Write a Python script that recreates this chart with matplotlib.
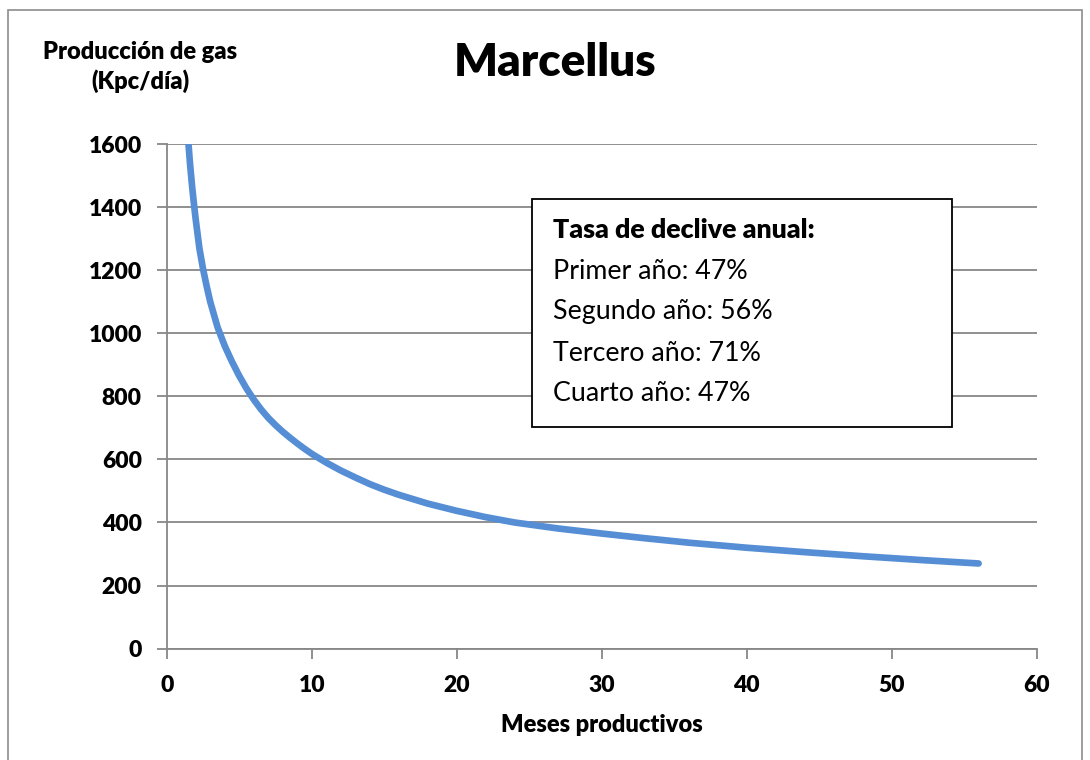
import matplotlib.pyplot as plt
from matplotlib.patches import Rectangle

# Datos
meses = [1.5, 1.6, 1.75, 1.9, 2.0, 2.25, 2.5, 2.75, 3.0, 3.5, 4, 4.5, 5, 5.5, 6, 6.5,
         7, 7.5, 8, 8.5, 9, 9.5, 10, 11, 12, 13, 14, 15, 16, 18, 20, 22, 24, 27, 30,
         33, 36, 40, 44, 48, 52, 56]
produccion = [1600, 1540, 1465, 1400, 1360, 1270, 1205, 1150, 1100, 1020, 960, 910,
              865, 825, 790, 759, 732, 709, 688, 669, 651, 634, 618, 590, 565, 543,
              522, 504, 488, 460, 437, 417, 400, 381, 365, 350, 336, 320, 306, 293,
              281, 270]

y_ticks = [0, 200, 400, 600, 800, 1000, 1200, 1400, 1600]
x_ticks = [0, 10, 20, 30, 40, 50, 60]

tasas = ["Primer año: 47%", "Segundo año: 56%", "Tercero año: 71%", "Cuarto año: 47%"]

plt.rcParams['font.family'] = ['Lato', 'DejaVu Sans']

fig = plt.figure(figsize=(10.9, 7.6), dpi=100)
ax = fig.add_axes([0.153, 0.1466, 0.798, 0.6636])

# borde exterior del grafico
fig.patches.append(Rectangle((8 / 1090, -0.01), 1074 / 1090, 1 - 10 / 760 + 0.01,
                             transform=fig.transFigure, fill=False,
                             edgecolor='#8c8c8c', linewidth=1.2))

ax.plot(meses, produccion, color='#558ED5', linewidth=4.8, solid_capstyle='round',
        solid_joinstyle='round')

ax.set_xlim(0, 60)
ax.set_ylim(0, 1600)
ax.set_xticks(x_ticks)
ax.set_yticks(y_ticks)
ax.grid(axis='y', color='#878787', linewidth=1.3)
ax.set_axisbelow(True)
for s in ['top', 'right']:
    ax.spines[s].set_visible(False)
for s in ['left', 'bottom']:
    ax.spines[s].set_color('#878787')
    ax.spines[s].set_linewidth(1.3)
ax.tick_params(axis='both', length=7, width=1.3, color='#878787', labelsize=16.5)
ax.tick_params(axis='x', pad=12)
ax.tick_params(axis='y', pad=11)
for lab in ax.get_xticklabels() + ax.get_yticklabels():
    lab.set_fontweight('heavy')

ax.set_xlabel("Meses productivos", fontsize=17, fontweight='heavy', labelpad=13)
fig.text(140 / 1090, 1 - 67 / 760, "Producción de gas\n(Kpc/día)", ha='center',
         va='center', fontsize=17, fontweight='heavy', linespacing=1.3)
fig.text(555 / 1090, 1 - 62 / 760, "Marcellus", ha='center', va='center',
         fontsize=33, fontweight='heavy')

# cuadro con las tasas de declive
fig.patches.append(Rectangle((532 / 1090, 1 - 427 / 760), 420 / 1090, 228 / 760,
                             transform=fig.transFigure, facecolor='white',
                             edgecolor='black', linewidth=1.3, zorder=5))
fig.text(553 / 1090, 1 - 230 / 760, "Tasa de declive anual:", ha='left', va='center',
         fontsize=19.3, fontweight='heavy', zorder=6)
for i, t in enumerate(tasas):
    fig.text(553 / 1090, 1 - (271 + 41 * i) / 760, t, ha='left', va='center',
             fontsize=19.3, zorder=6)

fig.savefig('out.png', dpi=100)
